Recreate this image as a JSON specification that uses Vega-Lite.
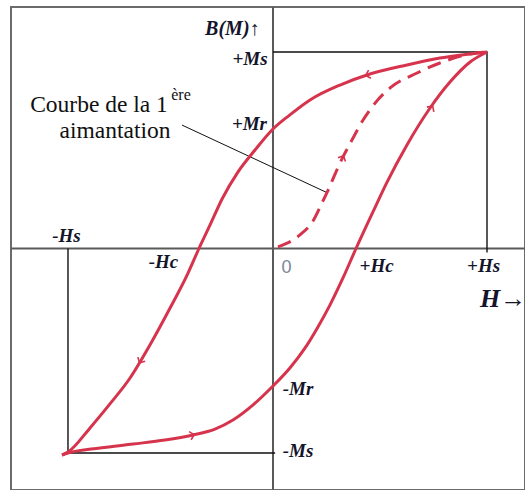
{
  "$schema": "https://vega.github.io/schema/vega-lite/v6.json",
  "width": 514,
  "height": 483,
  "autosize": {"type": "none"},
  "padding": {"left": 11, "top": 7, "right": 0, "bottom": 0},
  "background": "white",
  "config": {
    "view": {"stroke": "#6b6b6b", "strokeWidth": 2}
  },
  "datasets": {
    "loop": [
      {"branch": "descente", "step": 0, "H": 1.0, "M": 1.0},
      {"branch": "descente", "step": 1, "H": 0.78, "M": 0.969},
      {"branch": "descente", "step": 2, "H": 0.626, "M": 0.934},
      {"branch": "descente", "step": 3, "H": 0.439, "M": 0.883},
      {"branch": "descente", "step": 4, "H": 0.313, "M": 0.832},
      {"branch": "descente", "step": 5, "H": 0.173, "M": 0.756},
      {"branch": "descente", "step": 6, "H": 0.079, "M": 0.68},
      {"branch": "descente", "step": 7, "H": 0.0, "M": 0.608},
      {"branch": "descente", "step": 8, "H": -0.084, "M": 0.501},
      {"branch": "descente", "step": 9, "H": -0.164, "M": 0.389},
      {"branch": "descente", "step": 10, "H": -0.238, "M": 0.252},
      {"branch": "descente", "step": 11, "H": -0.294, "M": 0.12},
      {"branch": "descente", "step": 12, "H": -0.346, "M": 0.0},
      {"branch": "descente", "step": 13, "H": -0.397, "M": -0.125},
      {"branch": "descente", "step": 14, "H": -0.481, "M": -0.303},
      {"branch": "descente", "step": 15, "H": -0.575, "M": -0.491},
      {"branch": "descente", "step": 16, "H": -0.668, "M": -0.659},
      {"branch": "descente", "step": 17, "H": -0.762, "M": -0.791},
      {"branch": "descente", "step": 18, "H": -0.855, "M": -0.913},
      {"branch": "descente", "step": 19, "H": -0.958, "M": -1.036},
      {"branch": "descente", "step": 20, "H": -0.986, "M": -1.051},
      {"branch": "montee", "step": 0, "H": -0.986, "M": -1.051},
      {"branch": "montee", "step": 1, "H": -0.958, "M": -1.041},
      {"branch": "montee", "step": 2, "H": -0.808, "M": -1.015},
      {"branch": "montee", "step": 3, "H": -0.654, "M": -0.995},
      {"branch": "montee", "step": 4, "H": -0.505, "M": -0.975},
      {"branch": "montee", "step": 5, "H": -0.374, "M": -0.949},
      {"branch": "montee", "step": 6, "H": -0.271, "M": -0.919},
      {"branch": "montee", "step": 7, "H": -0.187, "M": -0.873},
      {"branch": "montee", "step": 8, "H": -0.093, "M": -0.796},
      {"branch": "montee", "step": 9, "H": 0.0, "M": -0.7},
      {"branch": "montee", "step": 10, "H": 0.079, "M": -0.608},
      {"branch": "montee", "step": 11, "H": 0.15, "M": -0.506},
      {"branch": "montee", "step": 12, "H": 0.21, "M": -0.399},
      {"branch": "montee", "step": 13, "H": 0.266, "M": -0.288},
      {"branch": "montee", "step": 14, "H": 0.327, "M": -0.15},
      {"branch": "montee", "step": 15, "H": 0.388, "M": 0.0},
      {"branch": "montee", "step": 16, "H": 0.467, "M": 0.186},
      {"branch": "montee", "step": 17, "H": 0.533, "M": 0.338},
      {"branch": "montee", "step": 18, "H": 0.626, "M": 0.527},
      {"branch": "montee", "step": 19, "H": 0.734, "M": 0.715},
      {"branch": "montee", "step": 20, "H": 0.827, "M": 0.847},
      {"branch": "montee", "step": 21, "H": 0.921, "M": 0.949},
      {"branch": "montee", "step": 22, "H": 1.0, "M": 1.0}
    ],
    "first": [
      {"step": 0, "H": 0.023, "M": 0.008},
      {"step": 1, "H": 0.126, "M": 0.069},
      {"step": 2, "H": 0.187, "M": 0.14},
      {"step": 3, "H": 0.229, "M": 0.232},
      {"step": 4, "H": 0.262, "M": 0.308},
      {"step": 5, "H": 0.294, "M": 0.389},
      {"step": 6, "H": 0.327, "M": 0.466},
      {"step": 7, "H": 0.369, "M": 0.552},
      {"step": 8, "H": 0.421, "M": 0.654},
      {"step": 9, "H": 0.477, "M": 0.74},
      {"step": 10, "H": 0.547, "M": 0.817},
      {"step": 11, "H": 0.673, "M": 0.893},
      {"step": 12, "H": 0.78, "M": 0.944},
      {"step": 13, "H": 0.921, "M": 0.99},
      {"step": 14, "H": 1.0, "M": 1.0}
    ],
    "guides": [
      {"path": "sat+", "step": 0, "H": 0.0, "M": 1.0},
      {"path": "sat+", "step": 1, "H": 1.0, "M": 1.0},
      {"path": "sat+", "step": 2, "H": 1.0, "M": -0.02},
      {"path": "sat-", "step": 0, "H": -0.958, "M": 0.0},
      {"path": "sat-", "step": 1, "H": -0.958, "M": -1.041},
      {"path": "sat-", "step": 2, "H": 0.01, "M": -1.041},
      {"path": "renvoi", "step": 0, "H": -0.425, "M": 0.628},
      {"path": "renvoi", "step": 1, "H": 0.257, "M": 0.282}
    ],
    "arrows": [
      {"H": 0.439, "M": 0.883, "heading": 254},
      {"H": 0.743, "M": 0.72, "heading": 34},
      {"H": 0.327, "M": 0.466, "heading": 26},
      {"H": -0.621, "M": -0.576, "heading": 209},
      {"H": -0.374, "M": -0.949, "heading": 76}
    ],
    "labels": [
      {"kind": "name", "text": "B(M)↑", "H": -0.19, "M": 1.087},
      {"kind": "tick", "text": "+Ms", "H": -0.107, "M": 0.934},
      {"kind": "tick", "text": "+Mr", "H": -0.11, "M": 0.603},
      {"kind": "tick", "text": "-Hs", "H": -0.965, "M": 0.033},
      {"kind": "tick", "text": "-Hc", "H": -0.512, "M": -0.099},
      {"kind": "tick", "text": "+Hc", "H": 0.484, "M": -0.12},
      {"kind": "tick", "text": "+Hs", "H": 0.984, "M": -0.12},
      {"kind": "tick", "text": "-Mr", "H": 0.117, "M": -0.746},
      {"kind": "tick", "text": "-Ms", "H": 0.117, "M": -1.061},
      {"kind": "axis", "text": "H→", "H": 1.075, "M": -0.298},
      {"kind": "origin", "text": "0", "H": 0.063, "M": -0.125},
      {"kind": "note", "text": "Courbe de la 1", "H": -0.813, "M": 0.695},
      {"kind": "note", "text": "aimantation", "H": -0.738, "M": 0.562},
      {"kind": "sup", "text": "ère", "H": -0.43, "M": 0.756}
    ]
  },
  "encoding": {
    "x": {"field": "H", "type": "quantitative", "axis": null, "scale": {"domain": [-1.2243, 1.1776], "nice": false, "zero": false}},
    "y": {"field": "M", "type": "quantitative", "axis": null, "scale": {"domain": [-1.229, 1.229], "nice": false, "zero": false}}
  },
  "layer": [
    {
      "data": {"values": [{"H": 0, "M": 0}]},
      "mark": {"type": "rule", "color": "#5a5a5a", "strokeWidth": 2},
      "encoding": {"x": {"datum": 0, "type": "quantitative"}, "y": null}
    },
    {
      "data": {"values": [{"H": 0, "M": 0}]},
      "mark": {"type": "rule", "color": "#5a5a5a", "strokeWidth": 2},
      "encoding": {"y": {"datum": 0, "type": "quantitative"}, "x": null}
    },
    {
      "data": {"name": "guides"},
      "transform": [{"filter": "datum.path !== 'renvoi'"}],
      "mark": {"type": "line", "color": "#111111", "strokeWidth": 1.4},
      "encoding": {"detail": {"field": "path"}, "order": {"field": "step", "type": "quantitative"}}
    },
    {
      "data": {"name": "guides"},
      "transform": [{"filter": "datum.path === 'renvoi'"}],
      "mark": {"type": "line", "color": "#111111", "strokeWidth": 1},
      "encoding": {"order": {"field": "step", "type": "quantitative"}}
    },
    {
      "data": {"name": "loop"},
      "mark": {"type": "line", "color": "#d6334d", "strokeWidth": 3, "interpolate": "monotone"},
      "encoding": {"detail": {"field": "branch"}, "order": {"field": "step", "type": "quantitative"}}
    },
    {
      "data": {"name": "first"},
      "mark": {"type": "line", "color": "#d6334d", "strokeWidth": 3, "strokeDash": [14, 8], "interpolate": "monotone"},
      "encoding": {"order": {"field": "step", "type": "quantitative"}}
    },
    {
      "data": {"name": "arrows"},
      "mark": {"type": "point", "shape": "M-1,0.7L0,-0.3L1,0.7", "filled": false, "color": "#d6334d", "strokeWidth": 1.6, "size": 70, "opacity": 1},
      "encoding": {"angle": {"field": "heading", "type": "quantitative", "scale": null}}
    },
    {
      "data": {"name": "labels"},
      "transform": [{"filter": "datum.kind === 'name'"}],
      "mark": {"type": "text", "font": "Liberation Serif", "fontStyle": "italic", "fontWeight": "bold", "color": "#14142a", "fontSize": 20, "align": "center", "baseline": "alphabetic"},
      "encoding": {"text": {"field": "text"}}
    },
    {
      "data": {"name": "labels"},
      "transform": [{"filter": "datum.kind === 'tick'"}],
      "mark": {"type": "text", "font": "Liberation Serif", "fontStyle": "italic", "fontWeight": "bold", "color": "#14142a", "fontSize": 19, "align": "center", "baseline": "alphabetic"},
      "encoding": {"text": {"field": "text"}}
    },
    {
      "data": {"name": "labels"},
      "transform": [{"filter": "datum.kind === 'axis'"}],
      "mark": {"type": "text", "font": "Liberation Serif", "fontStyle": "italic", "fontWeight": "bold", "color": "#14142a", "fontSize": 26, "align": "center", "baseline": "alphabetic"},
      "encoding": {"text": {"field": "text"}}
    },
    {
      "data": {"name": "labels"},
      "transform": [{"filter": "datum.kind === 'origin'"}],
      "mark": {"type": "text", "font": "Liberation Sans", "fontSize": 18, "color": "#7a8699", "align": "center", "baseline": "alphabetic"},
      "encoding": {"text": {"field": "text"}}
    },
    {
      "data": {"name": "labels"},
      "transform": [{"filter": "datum.kind === 'note'"}],
      "mark": {"type": "text", "font": "Liberation Serif", "fontSize": 23.5, "color": "#101010", "align": "center", "baseline": "alphabetic"},
      "encoding": {"text": {"field": "text"}}
    },
    {
      "data": {"name": "labels"},
      "transform": [{"filter": "datum.kind === 'sup'"}],
      "mark": {"type": "text", "font": "Liberation Serif", "fontSize": 16, "color": "#101010", "align": "center", "baseline": "alphabetic"},
      "encoding": {"text": {"field": "text"}}
    }
  ]
}
